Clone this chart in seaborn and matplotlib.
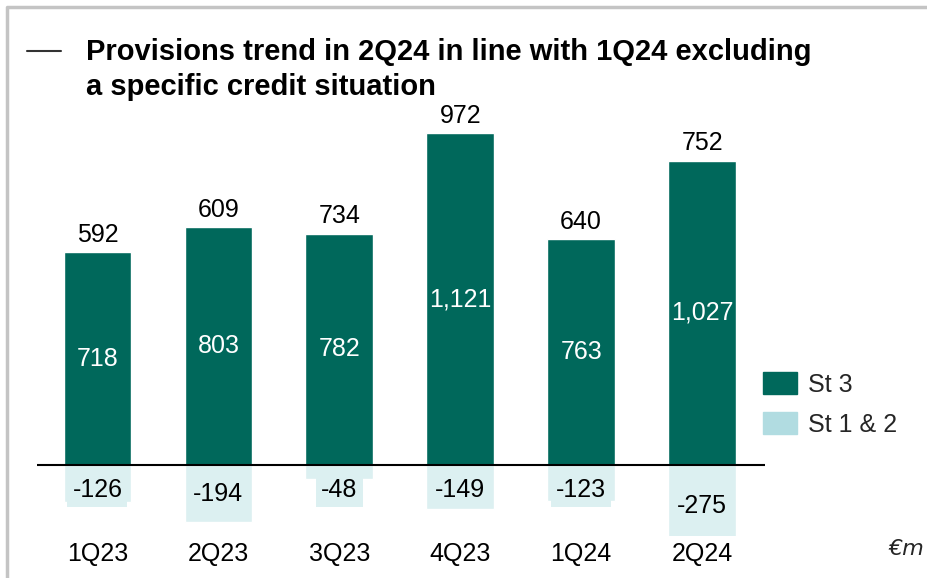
import numpy as np
import pandas as pd
import seaborn as sns
import matplotlib.pyplot as plt
from matplotlib.lines import Line2D
from matplotlib.patches import Patch

# datos (EUR m)
trimestres = ["1Q23", "2Q23", "3Q23", "4Q23", "1Q24", "2Q24"]
st3 = [718, 803, 782, 1121, 763, 1027]
st12 = [-126, -194, -48, -149, -123, -275]
totales = [592, 609, 734, 972, 640, 752]

VERDE = "#00685b"
AZUL_LEY = "#b1dce1"
AZUL_BAR = "#dcf0f1"
FS = 18

sns.set_theme(style="white")
plt.rcParams["font.family"] = ["Liberation Sans", "DejaVu Sans"]

df = pd.DataFrame({"trimestre": trimestres, "st3": st3, "st12": st12})

fig = plt.figure(figsize=(9.28, 5.78), dpi=100)
ax = fig.add_axes([37 / 928, 42 / 578, 728 / 928, 441 / 578])

sns.barplot(data=df, x="trimestre", y="st3", color=VERDE, width=0.56,
            saturation=1, ax=ax)
sns.barplot(data=df, x="trimestre", y="st12", color=AZUL_BAR, width=0.56,
            saturation=1, ax=ax)

ax.set_xlim(-0.5, 5.52)
ax.set_ylim(-240, 1250)
ax.axhline(0, color="black", lw=1.5)
for s in ax.spines.values():
    s.set_visible(False)
ax.set_yticks([])
ax.set_xlabel("")
ax.set_ylabel("")
ax.tick_params(axis="x", length=0, pad=4, labelsize=FS, labelcolor="black")

for i in range(len(trimestres)):
    ax.annotate(f"{st3[i]:,}", (i, st3[i] / 2), ha="center", va="center",
                color="white", fontsize=FS)
    ax.annotate(f"{totales[i]:,}", (i, st3[i]), xytext=(0, 4),
                textcoords="offset points", ha="center", va="bottom",
                color="black", fontsize=FS)
    ax.annotate(f"{st12[i]:,}", (i, min(st12[i] / 2, -85)), ha="center",
                va="center", color="black", fontsize=FS,
                bbox=dict(boxstyle="square,pad=0.2", fc=AZUL_BAR, ec="none"))

handles = [Patch(color=VERDE), Patch(color=AZUL_LEY)]
ax.legend(handles, ["St 3", "St 1 & 2"], loc="upper left",
          bbox_to_anchor=(763 / 928, 1 - 372 / 578),
          bbox_transform=fig.transFigure, frameon=False, fontsize=FS,
          handlelength=1.36, handleheight=1.0, handletextpad=0.44,
          labelspacing=0.6, borderpad=0, borderaxespad=0)

fig.text(86 / 928, 1 - 38 / 578,
         "Provisions trend in 2Q24 in line with 1Q24 excluding\na specific credit situation",
         ha="left", va="top", fontsize=21, fontweight="bold",
         linespacing=1.3, color="black")
fig.add_artist(Line2D([27 / 928, 61 / 928], [1 - 51 / 578] * 2,
                      color="#333333", lw=1.5, transform=fig.transFigure))
fig.add_artist(Line2D([7 / 928, 7 / 928, 1], [0, 1 - 7 / 578, 1 - 7 / 578],
                      color="#c4c4c4", lw=2.5, transform=fig.transFigure))

fig.text(906 / 928, 1 - 549 / 578, "€m", ha="center", va="center",
         fontsize=16, style="italic", family=["DejaVu Sans"])

fig.savefig("out.png", dpi=100)
